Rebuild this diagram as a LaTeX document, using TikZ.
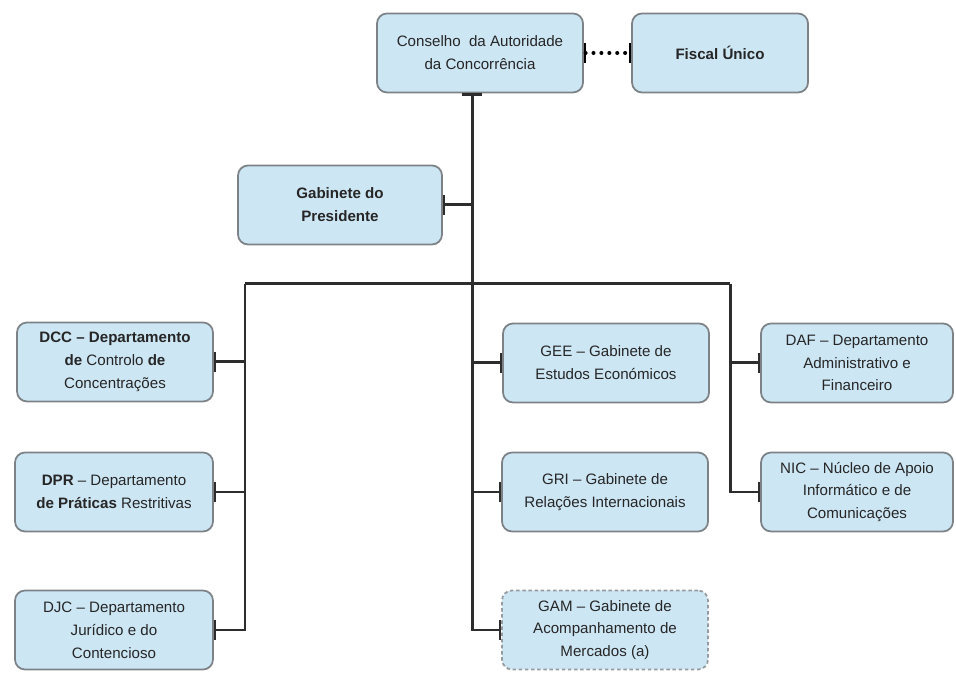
\documentclass[tikz,border=0pt]{standalone}
\usepackage{fontspec}
\setmainfont{Liberation Sans}
\usetikzlibrary{arrows.meta}
\definecolor{boxfill}{RGB}{205,230,244}
\definecolor{boxline}{RGB}{125,130,135}
\definecolor{linkline}{RGB}{45,45,45}

\begin{document}
\begin{tikzpicture}[
        unit/.style = {draw = boxline, fill = boxfill, line width = 1pt, rounded corners = 0.2cm, align = center, text = black!85, font = \fontsize{8.6pt}{13pt}\selectfont, minimum height = 1.58cm, inner sep = 2pt},
        boldunit/.style = {unit, font = \fontsize{8.6pt}{13pt}\selectfont\bfseries},
        link/.style = {draw = linkline, line width = 1.7pt},
        dotlink/.style = {draw = black, line width = 2.3pt, dash pattern = on 0pt off 4.5pt, line cap = round},
        endtick/.style = {arrows = {-Bar[width = 4mm, line width = 1.3pt]}},
        bothtick/.style = {arrows = {Bar[width = 4mm, line width = 1.3pt]-Bar[width = 4mm, line width = 1.3pt]}}
    ]
        \useasboundingbox (0, 0) rectangle (19.12, 13.46);
        \node[unit, minimum width = 4.12cm] (cons) at (9.6, 12.4) {Conselho\ \ da Autoridade\\da Concorrência};
        \node[boldunit, minimum width = 3.52cm] (fisc) at (14.4, 12.4) {Fiscal Único};
        \node[boldunit, minimum width = 4.08cm] (gab) at (6.8, 9.36) {Gabinete do\\Presidente};
        \node[unit, minimum width = 3.92cm] (dcc) at (2.3, 6.22) {\textbf{DCC -- Departamento}\\\textbf{de} Controlo \textbf{de}\\Concentrações};
        \node[unit, minimum width = 3.96cm] (dpr) at (2.28, 3.62) {\textbf{DPR} -- Departamento\\\textbf{de Práticas} Restritivas};
        \node[unit, minimum width = 3.96cm] (djc) at (2.28, 0.86) {DJC -- Departamento\\Jurídico e do\\Contencioso};
        \node[unit, minimum width = 4.12cm] (gee) at (12.12, 6.2) {GEE -- Gabinete de\\Estudos Económicos};
        \node[unit, minimum width = 4.12cm] (gri) at (12.1, 3.62) {GRI -- Gabinete de\\Relações Internacionais};
        \node[unit, minimum width = 4.12cm, draw = boxline!80, dash pattern = on 2pt off 1.5pt] (gam) at (12.1, 0.86) {GAM -- Gabinete de\\Acompanhamento de\\Mercados (a)};
        \node[unit, minimum width = 3.84cm] (daf) at (17.14, 6.2) {DAF -- Departamento\\Administrativo e\\Financeiro};
        \node[unit, minimum width = 3.84cm] (nic) at (17.14, 3.62) {NIC -- Núcleo de Apoio\\Informático e de\\Comunicações};
        \coordinate (bus) at (9.44, 7.78);
        \coordinate (busl) at (4.9, 7.78);
        \coordinate (busr) at (14.6, 7.78);
        \draw[dotlink, bothtick] (cons.east) -- (fisc.west);
        \draw[link, bothtick] (cons.south -| bus) -- (bus |- gam.west) -- (gam.west);
        \draw[link] (busl) -- (busr);
        \draw[link, endtick] (bus |- gab.east) -- (gab.east);
        \draw[link, endtick] (bus |- gee.west) -- (gee.west);
        \draw[link, endtick] (bus |- gri.west) -- (gri.west);
        \draw[link, endtick] (busl) |- (djc.east);
        \draw[link, endtick] (busl |- dcc.east) -- (dcc.east);
        \draw[link, endtick] (busl |- dpr.east) -- (dpr.east);
        \draw[link, endtick] (busr) |- (nic.west);
        \draw[link, endtick] (busr |- daf.west) -- (daf.west);
    \end{tikzpicture}
\end{document}
